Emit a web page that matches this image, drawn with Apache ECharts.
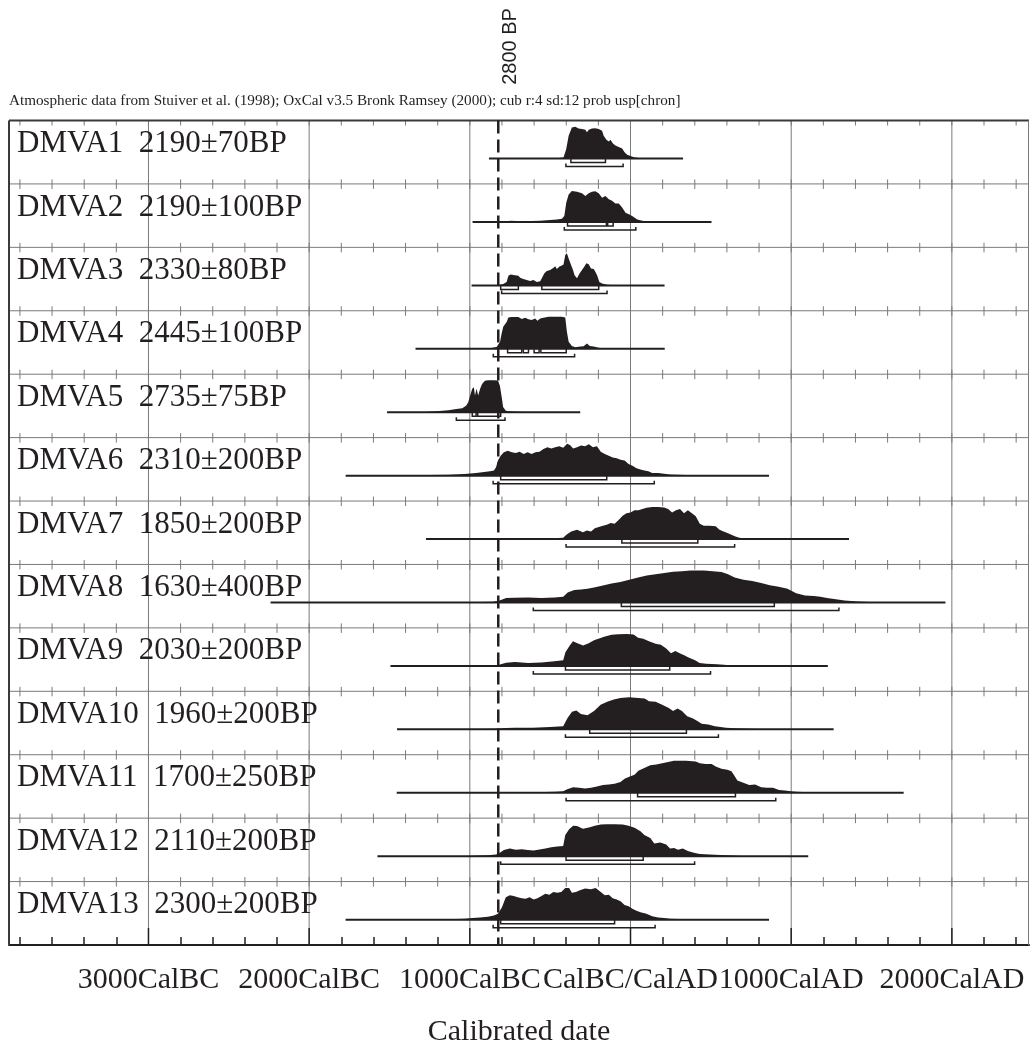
<!DOCTYPE html>
<html>
<head>
<meta charset="utf-8">
<title>Calibrated radiocarbon dates DMVA1–DMVA13</title>
<script src="https://cdn.jsdelivr.net/npm/echarts@6/dist/echarts.min.js"></script>
<style>
  html, body { margin: 0; padding: 0; background: #fff; }
  #chart { width: 1030px; height: 1049px; }
</style>
</head>
<body>
<div id="chart"></div>
<script>
// ---- sample names and uncalibrated ages ----
const SAMPLE_NAMES = ['DMVA1', 'DMVA2', 'DMVA3', 'DMVA4', 'DMVA5', 'DMVA6', 'DMVA7',
  'DMVA8', 'DMVA9', 'DMVA10', 'DMVA11', 'DMVA12', 'DMVA13'];
const SAMPLE_AGES = ['2190±70BP', '2190±100BP', '2330±80BP', '2445±100BP', '2735±75BP',
  '2310±200BP', '1850±200BP', '1630±400BP', '2030±200BP', '1960±200BP', '1700±250BP',
  '2110±200BP', '2300±200BP'];

// ---- calibrated probability curves: [calendar year (AD +, BC -), relative probability] ----
const DMVA1 = [[-479,0],[-417,0.03],[-400,0.3],[-385,0.71],[-365,0.97],[-344,0.99],[-323,0.94],[-302,0.92],[-281,0.9],[-271,0.82],[-260,0.9],[-240,0.94],[-219,0.95],[-198,0.92],[-177,0.87],[-167,0.71],[-150,0.59],[-135,0.53],[-125,0.59],[-108,0.46],[-94,0.41],[-73,0.36],[-52,0.31],[-37,0.2],[-21,0.12],[0,0.08],[21,0.04],[62,0.01],[83,0]];
const DMVA2 = [[-771,0],[-750,0.04],[-667,0.02],[-562,0.04],[-500,0.06],[-458,0.08],[-427,0.1],[-412,0.19],[-400,0.6],[-385,0.86],[-365,0.97],[-333,0.94],[-302,0.9],[-281,0.81],[-260,0.9],[-240,0.94],[-219,0.96],[-198,0.9],[-177,0.76],[-156,0.81],[-135,0.71],[-115,0.66],[-94,0.58],[-73,0.58],[-52,0.45],[-31,0.29],[-10,0.24],[10,0.19],[42,0.08],[73,0.04],[115,0.01],[146,0]];
const DMVA3 = [[-833,0],[-812,0.02],[-792,0.04],[-771,0.11],[-760,0.3],[-746,0.34],[-719,0.32],[-698,0.3],[-687,0.24],[-667,0.2],[-646,0.17],[-625,0.14],[-604,0.17],[-583,0.11],[-562,0.13],[-552,0.22],[-537,0.375],[-521,0.45],[-500,0.48],[-479,0.55],[-469,0.6],[-458,0.51],[-442,0.59],[-427,0.625],[-417,0.65],[-406,0.95],[-396,1.0],[-385,0.84],[-371,0.65],[-358,0.48],[-348,0.32],[-333,0.22],[-317,0.375],[-302,0.48],[-287,0.59],[-275,0.69],[-260,0.66],[-246,0.53],[-229,0.51],[-219,0.43],[-208,0.32],[-194,0.11],[-177,0.06],[-146,0.02],[-62,0]];
const DMVA4 = [[-1187,0],[-1100,0.01],[-979,0.01],[-875,0.02],[-833,0.06],[-812,0.22],[-802,0.48],[-792,0.69],[-771,0.84],[-760,0.98],[-740,0.99],[-698,0.99],[-677,0.93],[-656,0.97],[-635,0.92],[-615,0.9],[-594,0.95],[-579,0.875],[-562,0.95],[-542,0.97],[-510,1.0],[-469,1.0],[-427,1.0],[-406,0.98],[-396,0.53],[-385,0.22],[-365,0.09],[-344,0.05],[-312,0.07],[-292,0.08],[-271,0.17],[-254,0.09],[-229,0.07],[-198,0.03],[-167,0.01],[-104,0]];
const DMVA5 = [[-1400,0],[-1281,0.01],[-1207,0.03],[-1133,0.06],[-1084,0.1],[-1047,0.125],[-1022,0.21],[-1010,0.31],[-998,0.52],[-985,0.73],[-975,0.78],[-968,0.52],[-958,0.73],[-948,0.52],[-936,0.73],[-924,0.885],[-906,0.98],[-887,1.0],[-850,1.0],[-825,0.99],[-813,0.83],[-800,0.42],[-793,0.16],[-776,0.05],[-739,0.02],[-665,0.01],[-591,0]];
const DMVA6 = [[-1502,0],[-1256,0.02],[-1133,0.03],[-1034,0.05],[-961,0.08],[-899,0.125],[-874,0.14],[-850,0.16],[-837,0.26],[-825,0.47],[-808,0.625],[-788,0.73],[-764,0.78],[-739,0.73],[-714,0.71],[-690,0.75],[-665,0.68],[-640,0.73],[-616,0.68],[-591,0.73],[-566,0.75],[-542,0.83],[-517,0.885],[-493,0.85],[-468,0.885],[-443,0.92],[-419,0.875],[-394,1.0],[-377,0.96],[-357,0.85],[-333,0.885],[-308,0.94],[-283,0.92],[-259,0.98],[-234,0.885],[-209,0.92],[-185,0.75],[-160,0.68],[-135,0.625],[-111,0.57],[-86,0.54],[-62,0.5],[-37,0.47],[-12,0.365],[12,0.31],[37,0.23],[62,0.19],[86,0.16],[111,0.135],[135,0.08],[172,0.08],[209,0.06],[246,0.04],[296,0.03],[345,0.02],[419,0.01],[493,0]];
const DMVA7 = [[-1000,0],[-813,0.01],[-739,0.015],[-640,0.01],[-517,0.015],[-419,0.04],[-399,0.135],[-369,0.24],[-333,0.29],[-296,0.21],[-271,0.27],[-246,0.24],[-222,0.34],[-197,0.375],[-172,0.42],[-148,0.45],[-123,0.5],[-99,0.48],[-74,0.6],[-49,0.73],[-25,0.81],[0,0.83],[25,0.9],[49,0.9],[74,0.94],[99,0.98],[135,1.0],[172,1.0],[209,0.99],[234,0.94],[259,0.83],[283,0.9],[308,0.94],[333,0.81],[357,0.9],[382,0.81],[406,0.71],[431,0.48],[456,0.42],[493,0.42],[530,0.4],[554,0.29],[579,0.24],[603,0.19],[628,0.135],[653,0.08],[677,0.04],[714,0.02],[776,0.01],[837,0]];
const DMVA8 = [[-1100,0],[-993,0.01],[-856,0.02],[-815,0.06],[-774,0.14],[-720,0.15],[-637,0.16],[-555,0.14],[-473,0.16],[-419,0.18],[-391,0.31],[-350,0.39],[-309,0.41],[-268,0.43],[-227,0.47],[-172,0.53],[-118,0.59],[-63,0.64],[-8,0.71],[47,0.78],[101,0.84],[156,0.88],[211,0.92],[265,0.96],[320,0.98],[375,1.0],[457,1.0],[512,0.98],[566,0.95],[607,0.88],[648,0.78],[703,0.71],[758,0.67],[813,0.61],[867,0.54],[922,0.49],[977,0.43],[1031,0.29],[1086,0.22],[1141,0.2],[1182,0.18],[1223,0.14],[1278,0.1],[1332,0.06],[1415,0.03],[1524,0.01],[1633,0]];
const DMVA9 = [[-1100,0],[-938,0.01],[-829,0.02],[-774,0.1],[-720,0.12],[-637,0.09],[-555,0.11],[-473,0.15],[-419,0.175],[-405,0.43],[-378,0.64],[-358,0.77],[-331,0.71],[-295,0.64],[-260,0.71],[-227,0.8],[-200,0.85],[-159,0.92],[-118,0.97],[-77,0.99],[-22,1.0],[19,0.98],[47,0.88],[79,0.85],[115,0.77],[156,0.69],[189,0.66],[224,0.54],[252,0.4],[279,0.47],[306,0.4],[334,0.33],[361,0.26],[402,0.175],[430,0.09],[471,0.07],[539,0.05],[621,0.02],[703,0.01],[785,0]];
const DMVA10 = [[-1100,0],[-938,0.01],[-829,0.02],[-774,0.04],[-720,0.05],[-610,0.05],[-501,0.07],[-419,0.1],[-391,0.36],[-364,0.55],[-337,0.59],[-309,0.48],[-268,0.44],[-227,0.57],[-186,0.77],[-145,0.86],[-104,0.93],[-63,0.98],[-8,1.0],[47,0.98],[88,0.96],[115,0.88],[156,0.86],[197,0.77],[238,0.67],[265,0.57],[293,0.65],[320,0.57],[353,0.41],[389,0.34],[416,0.26],[443,0.175],[484,0.155],[525,0.1],[594,0.05],[676,0.03],[785,0.01],[867,0]];
const DMVA11 = [[-1000,0],[-837,0],[-764,0.01],[-591,0.02],[-468,0.03],[-419,0.05],[-394,0.11],[-357,0.175],[-320,0.155],[-283,0.13],[-246,0.155],[-209,0.2],[-172,0.24],[-135,0.26],[-99,0.28],[-62,0.34],[-37,0.44],[0,0.52],[25,0.56],[49,0.69],[86,0.77],[123,0.86],[160,0.88],[197,0.92],[234,0.96],[271,1.0],[345,1.0],[406,0.98],[431,0.92],[468,0.9],[505,0.9],[530,0.82],[566,0.75],[603,0.72],[628,0.67],[645,0.55],[665,0.38],[702,0.31],[739,0.24],[776,0.26],[813,0.175],[850,0.155],[887,0.155],[924,0.09],[961,0.07],[998,0.05],[1034,0.03],[1108,0.02],[1182,0.01],[1281,0]];
const DMVA12 = [[-1100,0],[-1010,0.01],[-887,0.03],[-837,0.05],[-813,0.11],[-788,0.19],[-751,0.24],[-714,0.2],[-677,0.22],[-640,0.19],[-603,0.18],[-566,0.21],[-530,0.24],[-493,0.28],[-456,0.3],[-419,0.32],[-406,0.66],[-382,0.84],[-357,0.95],[-333,0.94],[-296,0.86],[-259,0.9],[-222,0.95],[-185,0.99],[-148,1.0],[-99,1.0],[-49,0.99],[-12,0.95],[25,0.885],[62,0.78],[86,0.66],[123,0.57],[148,0.4],[185,0.43],[222,0.365],[246,0.24],[271,0.26],[296,0.2],[325,0.24],[357,0.16],[394,0.11],[431,0.07],[493,0.05],[591,0.03],[690,0.01],[788,0]];
const DMVA13 = [[-1300,0],[-1133,0.01],[-1034,0.03],[-985,0.05],[-936,0.07],[-887,0.09],[-850,0.13],[-825,0.18],[-800,0.39],[-776,0.7],[-751,0.76],[-727,0.74],[-702,0.7],[-677,0.67],[-653,0.65],[-628,0.7],[-603,0.63],[-579,0.67],[-554,0.74],[-530,0.81],[-505,0.78],[-480,0.86],[-456,0.84],[-431,0.86],[-406,0.99],[-382,0.99],[-365,0.84],[-340,0.86],[-315,0.92],[-283,0.97],[-246,0.95],[-217,0.99],[-185,0.86],[-160,0.76],[-135,0.78],[-111,0.67],[-86,0.63],[-62,0.57],[-37,0.46],[-12,0.42],[12,0.34],[37,0.28],[62,0.23],[99,0.18],[135,0.105],[172,0.07],[209,0.05],[246,0.03],[296,0.02],[394,0.01],[493,0]];
const CURVES = [DMVA1, DMVA2, DMVA3, DMVA4, DMVA5, DMVA6, DMVA7, DMVA8, DMVA9, DMVA10, DMVA11, DMVA12, DMVA13];

// ---- calibration span drawn under each curve [from, to] ----
const CAL_SPANS = [[-881,327],[-983,504],[-989,212],[-1338,213],[-1515,-313],[-1773,862],[-1273,1360],
  [-2240,1960],[-1494,1228],[-1453,1264],[-1455,1700],[-1575,1106],[-1773,862]];

// ---- 68.2% ranges (may be split) ----
const RANGE_68 = [
  [[-371,-156]],
  [[-392,-150],[-142,-108]],
  [[-808,-698],[-552,-198]],
  [[-765,-677],[-667,-635],[-600,-569],[-558,-400]],
  [[-985,-961],[-951,-808]],
  [[-808,-148]],
  [[-54,419]],
  [[-57,895]],
  [[-405,244]],
  [[-254,348]],
  [[44,653]],
  [[-401,79]],
  [[-808,-99]]
];
// ---- 95.4% ranges ----
const RANGE_95 = [
  [[-402,-46]],
  [[-412,33]],
  [[-802,-146]],
  [[-854,-348]],
  [[-1084,-781]],
  [[-855,148]],
  [[-401,648]],
  [[-605,1297]],
  [[-605,498]],
  [[-405,547]],
  [[-401,904]],
  [[-808,399]],
  [[-855,153]]
];

// ---- reference line and axis ----
const REF_LINE_YEAR = -823;
const REF_LINE_LABEL = '2800 BP';
const TICK_YEARS = [-3000, -2000, -1000, 0, 1000, 2000];
const TICK_LABELS = ['3000CalBC', '2000CalBC', '1000CalBC', 'CalBC/CalAD', '1000CalAD', '2000CalAD'];
const SOURCE_NOTE = 'Atmospheric data from Stuiver et al. (1998); OxCal v3.5 Bronk Ramsey (2000); cub r:4 sd:12 prob usp[chron]';
const X_TITLE = 'Calibrated date';

// ---- layout / style constants ----
const X_MIN = -3868, X_MAX = 2480;
const N_ROWS = SAMPLE_NAMES.length;
const BASE = 0.6;     // baseline position inside a row (row units, from row top)
const PEAK = 0.505;   // height of a normalised peak (row units)
const INK = '#231f20';
const GRID_GREY = '#7a7a7a';
const SERIF = '"Liberation Serif", "Times New Roman", serif';
const SANS = '"Liberation Sans", Arial, sans-serif';

const MINOR_TICKS = [];
for (let y = -3800; y <= 2400; y += 200) if (y % 1000 !== 0) MINOR_TICKS.push(y);
const ALL_TICKS = [];
for (let y = -3800; y <= 2400; y += 200) ALL_TICKS.push(y);
const ROW_IDS = SAMPLE_NAMES.map((_, i) => i);

const chart = echarts.init(document.getElementById('chart'), null, { renderer: 'canvas' });

function line(p1, p2, stroke, width, dash) {
  return { type: 'line', shape: { x1: p1[0], y1: p1[1], x2: p2[0], y2: p2[1] },
    style: { stroke, lineWidth: width, lineDash: dash || null } };
}

const option = {
  animation: false,
  backgroundColor: '#fff',
  title: {
    text: SOURCE_NOTE, left: 9, top: 94, padding: 0,
    textStyle: { fontFamily: SERIF, fontSize: 15.2, fontWeight: 'normal', color: INK }
  },
  grid: { left: 9, width: 1020, top: 120.5, height: 824.5, show: false, outerBoundsMode: 'none', containLabel: false },
  xAxis: {
    type: 'value', min: X_MIN, max: X_MAX,
    axisLine: { show: true, onZero: false, lineStyle: { color: INK, width: 2 } },
    axisTick: { show: true, inside: true, length: 8, customValues: MINOR_TICKS, lineStyle: { color: INK, width: 1.5 } },
    axisLabel: { customValues: TICK_YEARS, margin: 20, fontFamily: SERIF, fontSize: 30, color: INK,
      formatter: v => TICK_LABELS[TICK_YEARS.indexOf(v)] },
    splitLine: { show: false },
    name: X_TITLE, nameLocation: 'middle', nameGap: 72,
    nameTextStyle: { fontFamily: SERIF, fontSize: 30, color: INK }
  },
  yAxis: { type: 'value', min: 0, max: N_ROWS, inverse: true, show: false },
  series: [
    // vertical millennium lines with their long ticks on the time axis
    {
      type: 'custom', name: 'millennia', data: TICK_YEARS, silent: true, z: 1,
      renderItem: (params, api) => {
        const v = TICK_YEARS[params.dataIndex];
        const top = api.coord([v, 0]), bottom = api.coord([v, N_ROWS]);
        return { type: 'group', children: [
          line(top, bottom, GRID_GREY, 1),
          line([bottom[0], bottom[1] - 17], bottom, INK, 1.5)
        ] };
      }
    },
    // row separators
    {
      type: 'custom', name: 'rows', data: ROW_IDS.slice(1), silent: true, z: 1,
      renderItem: (params, api) => {
        const r = params.dataIndex + 1;
        return line(api.coord([X_MIN, r]), api.coord([X_MAX, r]), GRID_GREY, 1);
      }
    },
    // 200-year ticks on each row line
    {
      type: 'custom', name: 'rowTicks', data: ALL_TICKS, silent: true, z: 1,
      renderItem: (params, api) => {
        const v = ALL_TICKS[params.dataIndex];
        const children = [];
        for (let r = 0; r < N_ROWS; r++) {
          const p = api.coord([v, r]);
          children.push(line([p[0], r === 0 ? p[1] : p[1] - 4.5], [p[0], p[1] + 5], GRID_GREY, 1));
        }
        return { type: 'group', children };
      }
    },
    // frame
    {
      type: 'custom', name: 'frame', data: [0], silent: true, z: 3,
      renderItem: (params, api) => {
        const tl = api.coord([X_MIN, 0]), tr = api.coord([X_MAX, 0]);
        const bl = api.coord([X_MIN, N_ROWS]), br = api.coord([X_MAX, N_ROWS]);
        return { type: 'group', children: [
          line(tl, tr, '#3a3a3a', 2),
          line(tl, bl, '#3a3a3a', 2),
          line([tr[0] - 0.5, tr[1]], [br[0] - 0.5, br[1]], GRID_GREY, 1)
        ] };
      }
    },
    // probability distributions
    {
      type: 'custom', name: 'curves', data: ROW_IDS, silent: true, z: 2,
      renderItem: (params, api) => {
        const i = params.dataIndex, pts = CURVES[i], base = i + BASE;
        const poly = [api.coord([pts[0][0], base])];
        pts.forEach(d => poly.push(api.coord([d[0], base - d[1] * PEAK])));
        poly.push(api.coord([pts[pts.length - 1][0], base]));
        return { type: 'polygon', shape: { points: poly }, style: { fill: INK } };
      }
    },
    // calibration span baselines and 68.2 / 95.4 % range brackets
    {
      type: 'custom', name: 'ranges', data: ROW_IDS, silent: true, z: 3,
      renderItem: (params, api) => {
        const i = params.dataIndex, base = i + BASE;
        const children = [line(api.coord([CAL_SPANS[i][0], base]), api.coord([CAL_SPANS[i][1], base]), INK, 2)];
        RANGE_68[i].forEach(s => {
          const a = api.coord([s[0], base]), b = api.coord([s[1], base]);
          children.push({ type: 'polyline', shape: { points: [[a[0], a[1]], [a[0], a[1] + 4], [b[0], b[1] + 4], [b[0], b[1]]] },
            style: { stroke: INK, lineWidth: 1.5, fill: null } });
        });
        RANGE_95[i].forEach(s => {
          const a = api.coord([s[0], base]), b = api.coord([s[1], base]);
          children.push({ type: 'polyline', shape: { points: [[a[0], a[1] + 5], [a[0], a[1] + 8], [b[0], b[1] + 8], [b[0], b[1] + 5]] },
            style: { stroke: INK, lineWidth: 1.5, fill: null } });
        });
        return { type: 'group', children };
      }
    },
    // 2800 BP reference line
    {
      type: 'custom', name: 'reference', data: [REF_LINE_YEAR], silent: true, z: 4,
      renderItem: (params, api) => {
        const top = api.coord([REF_LINE_YEAR, 0]), bottom = api.coord([REF_LINE_YEAR, N_ROWS]);
        return { type: 'group', children: [
          line(top, bottom, INK, 2.5, [13, 6]),
          { type: 'text', x: top[0] + 12, y: top[1] - 74, rotation: Math.PI / 2,
            style: { text: REF_LINE_LABEL, fill: INK, font: '20px ' + SANS, align: 'center', verticalAlign: 'middle' } }
        ] };
      }
    },
    // sample labels
    {
      type: 'custom', name: 'labels', data: ROW_IDS, silent: true, z: 5,
      renderItem: (params, api) => {
        const i = params.dataIndex;
        const p = api.coord([X_MIN, i + 0.37]);
        return { type: 'text', x: p[0] + 8, y: p[1],
          style: { text: SAMPLE_NAMES[i] + '  ' + SAMPLE_AGES[i], fill: INK, font: '31px ' + SERIF,
            align: 'left', verticalAlign: 'middle' } };
      }
    }
  ]
};
chart.setOption(option);
</script>
</body>
</html>
